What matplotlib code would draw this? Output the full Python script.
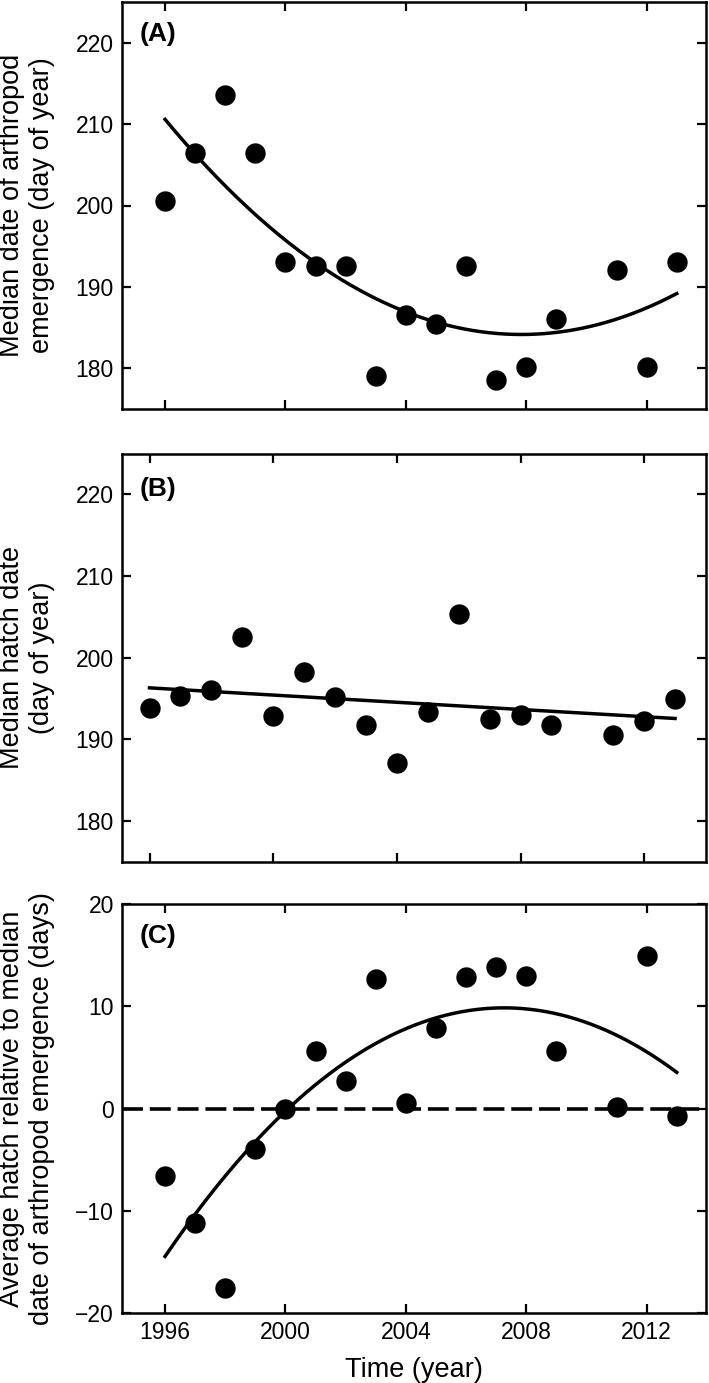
import numpy as np
import matplotlib
matplotlib.use("Agg")
import matplotlib.pyplot as plt

plt.rcParams['font.family'] = ['Liberation Sans', 'DejaVu Sans']

# years sampled (no 2010)
years = [1996, 1997, 1998, 1999, 2000, 2001, 2002, 2003, 2004,
         2005, 2006, 2007, 2008, 2009, 2011, 2012, 2013]

# (A) median date of arthropod emergence
emergence = [200.5, 206.5, 213.6, 206.5, 193.0, 192.6, 192.6, 179.0, 186.6,
             185.5, 192.6, 178.6, 180.1, 186.1, 192.05, 180.1, 193.0]

# (B) median hatch date
hatch = [193.85, 195.3, 196.0, 202.55, 192.9, 198.2, 195.2, 191.8, 187.1,
         193.4, 205.4, 192.5, 193.0, 191.8, 190.5, 192.2, 195.0]

# (C) hatch relative to emergence
relative = [-6.65, -11.2, -17.56, -3.97, -0.07, 5.64, 2.67, 12.67, 0.52,
            7.85, 12.83, 13.88, 12.96, 5.67, 0.13, 14.95, -0.72]

doy_ticks = [180, 190, 200, 210, 220]
rel_ticks = [-20, -10, 0, 10, 20]
year_ticks = [1996, 2000, 2004, 2008, 2012]

W, H = 709, 1383
fig = plt.figure(figsize=(W / 100, H / 100), dpi=100)

left = 122.3 / W
width = (706 - 122.3) / W


def make_axes(top_px, bottom_px):
    return fig.add_axes([left, 1 - bottom_px / H, width, (bottom_px - top_px) / H])


axA = make_axes(2, 409)
axB = make_axes(453.5, 862)
axC = make_axes(904, 1313)


def style(ax):
    for s in ax.spines.values():
        s.set_linewidth(1.8)
    ax.tick_params(direction='in', top=True, right=True, length=6.5, width=1.6,
                   pad=6, labelsize=16.5)
    ax.set_xticks(year_ticks)


def fit_line(ax, x, y, deg):
    coef = np.polyfit(x, y, deg)
    xs = np.linspace(min(x), max(x), 200)
    ax.plot(xs, np.polyval(coef, xs), color='black', lw=2.5, zorder=2)


x = np.array(years)

# panel A
style(axA)
axA.scatter(x, emergence, s=215, color='black', zorder=3, linewidths=0)
fit_line(axA, x, np.array(emergence), 2)
axA.set_xlim(1994.58, 2013.97)
axA.set_ylim(175, 225)
axA.set_yticks(doy_ticks)
axA.set_xticklabels([])
axA.set_ylabel('Median date of arthropod\nemergence (day of year)', fontsize=19.5)
axA.text(0.03, 0.921, '(A)', transform=axA.transAxes, fontsize=19,
         fontweight='bold', ha='left', va='center')

# panel B
style(axB)
axB.scatter(x, hatch, s=215, color='black', zorder=3, linewidths=0)
fit_line(axB, x, np.array(hatch), 1)
axB.set_xlim(1995.12, 2014.0)
axB.set_ylim(175, 225)
axB.set_yticks(doy_ticks)
axB.set_xticklabels([])
axB.set_ylabel('Median hatch date\n(day of year)', fontsize=19.5)
axB.text(0.03, 0.913, '(B)', transform=axB.transAxes, fontsize=19,
         fontweight='bold', ha='left', va='center')

# panel C
style(axC)
axC.axhline(0, color='black', lw=2.6, dashes=(5.8, 1.9), zorder=1)
axC.scatter(x, relative, s=215, color='black', zorder=3, linewidths=0)
fit_line(axC, x, np.array(relative), 2)
axC.set_xlim(1994.58, 2013.97)
axC.set_ylim(-20, 20)
axC.set_yticks(rel_ticks)
axC.set_ylabel('Average hatch relative to median\ndate of arthropod emergence (days)',
               fontsize=19.5)
axC.set_xlabel('Time (year)', fontsize=19.5, labelpad=9)
axC.text(0.03, 0.922, '(C)', transform=axC.transAxes, fontsize=19,
         fontweight='bold', ha='left', va='center')

for ax in (axA, axB, axC):
    ax.yaxis.set_label_coords(-0.115, 0.5)

fig.savefig('out.png', dpi=100)
